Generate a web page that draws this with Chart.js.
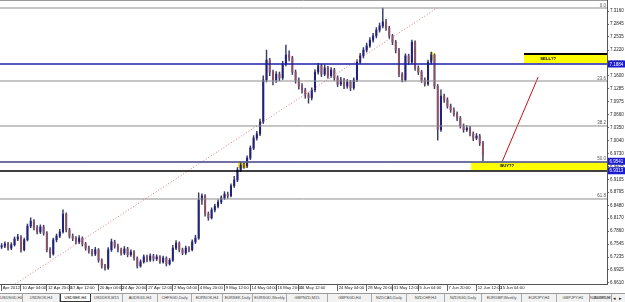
<!DOCTYPE html>
<html><head><meta charset="utf-8">
<script src="https://cdn.jsdelivr.net/npm/chart.js@4.4.0/dist/chart.umd.min.js"></script>
<style>
html,body{margin:0;padding:0;background:#fff;width:625px;height:302px;overflow:hidden;}
#wrap{position:relative;width:625px;height:302px;}
canvas{display:block;}
#tabs{position:absolute;left:0;top:293px;width:625px;height:9px;background:#f2f2f2;border-top:1px solid #9a9a9a;box-sizing:border-box;font:3.9px "Liberation Sans",Arial,sans-serif;color:#444;white-space:nowrap;overflow:hidden;}
.tab{position:absolute;top:0;height:8px;line-height:8px;text-align:center;border-right:1px solid #aaa;box-sizing:border-box;overflow:hidden;}
.tab.active{background:#fff;border:1px solid #333;border-top:none;color:#000;}
.arr{position:absolute;top:0;line-height:8px;font-size:5px;color:#222;}
</style></head>
<body><div id="wrap"><canvas id="c" width="625" height="293"></canvas><div id="tabs"></div></div>
<script>
// ---------- data ----------
const priceTicks = [7.3160,7.2845,7.2535,7.2220,7.1910,7.1600,7.1285,7.0975,7.0660,7.0350,7.0040,6.9730,6.9415,6.9105,6.8795,6.8480,6.8170,6.7860,6.7545,6.7235,6.6925,6.6610];
const timeLabels = ["Apr 2012","10 Apr 04:00","12 Apr 20:00","17 Apr 12:00","20 Apr 04:00","24 Apr 20:00","27 Apr 12:00","2 May 04:00","4 May 20:00","9 May 12:00","14 May 04:00","16 May 20:00","21 May 12:00","24 May 04:00","28 May 20:00","31 May 12:00","5 Jun 04:00","7 Jun 20:00","12 Jun 12:00","15 Jun 04:00"];
const timeLabelBars = [0,6,14,21,30,37,45,53,61,69,77,85,92,104,113,121,129,138,147,154];

const opens = [6.748,6.750,6.755,6.745,6.753,6.767,6.772,6.741,6.765,6.798,6.810,6.794,6.784,6.796,6.781,6.741,6.731,6.765,6.774,6.784,
6.827,6.789,6.774,6.769,6.760,6.769,6.755,6.745,6.738,6.731,6.741,6.716,6.702,6.697,6.741,6.760,6.750,6.741,6.733,6.743,
6.729,6.736,6.721,6.702,6.712,6.724,6.716,6.726,6.719,6.724,6.712,6.721,6.707,6.716,6.745,6.757,6.741,6.733,6.745,6.741,
6.760,6.769,6.861,6.871,6.827,6.818,6.837,6.846,6.856,6.866,6.875,6.871,6.895,6.909,6.933,6.945,6.943,6.962,6.986,7.010,
7.020,7.049,7.150,7.198,7.169,7.150,7.164,7.155,7.188,7.210,7.203,7.169,7.150,7.135,7.126,7.114,7.107,7.126,7.169,7.184,
7.164,7.179,7.160,7.174,7.155,7.140,7.150,7.135,7.145,7.131,7.150,7.193,7.208,7.222,7.232,7.246,7.256,7.270,7.280,7.290,
7.275,7.256,7.241,7.222,7.164,7.150,7.208,7.193,7.241,7.179,7.169,7.150,7.140,7.193,7.210,7.135,7.030,7.111,7.102,7.087,
7.078,7.068,7.058,7.039,7.030,7.034,7.020,7.010,7.015,6.998];
const highs = [6.756,6.760,6.759,6.758,6.772,6.778,6.775,6.769,6.803,6.818,6.814,6.799,6.801,6.800,6.785,6.746,6.769,6.779,6.790,6.837,
6.830,6.793,6.779,6.773,6.775,6.772,6.759,6.750,6.742,6.747,6.744,6.719,6.706,6.746,6.767,6.764,6.755,6.745,6.749,6.747,
6.741,6.739,6.724,6.717,6.729,6.728,6.731,6.730,6.729,6.727,6.726,6.724,6.720,6.752,6.763,6.760,6.745,6.750,6.749,6.765,
6.776,6.878,6.876,6.874,6.832,6.842,6.851,6.861,6.871,6.881,6.880,6.900,6.918,6.939,6.952,6.950,6.967,6.991,7.016,7.026,
7.056,7.160,7.222,7.202,7.174,7.170,7.169,7.195,7.234,7.220,7.207,7.174,7.155,7.141,7.130,7.119,7.131,7.175,7.190,7.188,
7.186,7.183,7.180,7.178,7.160,7.156,7.154,7.151,7.149,7.155,7.199,7.214,7.228,7.239,7.252,7.262,7.276,7.287,7.323,7.296,
7.279,7.260,7.245,7.226,7.168,7.213,7.212,7.246,7.244,7.184,7.173,7.155,7.198,7.217,7.213,7.139,7.126,7.116,7.107,7.092,
7.083,7.073,7.062,7.044,7.040,7.038,7.025,7.021,7.019,7.002];
const lows = [6.744,6.746,6.740,6.741,6.750,6.763,6.735,6.738,6.762,6.794,6.789,6.779,6.780,6.776,6.736,6.722,6.728,6.760,6.770,6.781,
6.784,6.769,6.763,6.755,6.756,6.750,6.740,6.733,6.726,6.727,6.711,6.697,6.692,6.694,6.737,6.745,6.736,6.728,6.729,6.724,
6.725,6.716,6.697,6.699,6.709,6.712,6.713,6.714,6.715,6.708,6.709,6.702,6.704,6.713,6.741,6.736,6.729,6.730,6.736,6.738,
6.756,6.766,6.850,6.822,6.812,6.815,6.832,6.842,6.852,6.862,6.865,6.868,6.891,6.905,6.929,6.937,6.939,6.958,6.982,7.005,
7.016,7.045,7.145,7.160,7.138,7.144,7.148,7.151,7.184,7.196,7.163,7.142,7.128,7.118,7.106,7.094,7.102,7.121,7.164,7.158,
7.160,7.154,7.156,7.149,7.134,7.136,7.129,7.130,7.124,7.127,7.146,7.189,7.203,7.217,7.228,7.241,7.251,7.265,7.275,7.269,
7.250,7.235,7.215,7.158,7.145,7.147,7.187,7.189,7.173,7.163,7.144,7.135,7.137,7.188,7.129,7.005,7.026,7.096,7.082,7.072,
7.063,7.052,7.034,7.024,7.026,7.015,7.004,7.006,6.992,6.955];
const closes = [6.750,6.755,6.745,6.753,6.767,6.772,6.741,6.765,6.798,6.810,6.794,6.784,6.796,6.781,6.741,6.731,6.765,6.774,6.784,6.827,
6.789,6.774,6.769,6.760,6.769,6.755,6.745,6.738,6.731,6.741,6.716,6.702,6.697,6.741,6.760,6.750,6.741,6.733,6.743,6.729,
6.736,6.721,6.702,6.712,6.724,6.716,6.726,6.719,6.724,6.712,6.721,6.707,6.716,6.745,6.757,6.741,6.733,6.745,6.741,6.760,
6.769,6.861,6.871,6.827,6.818,6.837,6.846,6.856,6.866,6.875,6.871,6.895,6.909,6.933,6.945,6.943,6.962,6.986,7.010,7.020,
7.049,7.150,7.198,7.169,7.150,7.164,7.155,7.188,7.210,7.203,7.169,7.150,7.135,7.126,7.114,7.107,7.126,7.169,7.184,7.164,
7.179,7.160,7.174,7.155,7.140,7.150,7.135,7.145,7.131,7.150,7.193,7.208,7.222,7.232,7.246,7.256,7.270,7.280,7.290,7.275,
7.256,7.241,7.222,7.164,7.150,7.208,7.193,7.241,7.179,7.169,7.150,7.140,7.193,7.210,7.135,7.030,7.111,7.102,7.087,7.078,
7.068,7.058,7.039,7.030,7.034,7.020,7.010,7.015,6.998,6.969];

const fibNames  = ["0.0","23.6","38.2","50.0","61.8"];
const fibPrices = [7.3232,7.1474,7.0391,6.9524,6.8633];
const blueLinePrices  = [7.1884, 6.9524];
const blackLinePrices = [6.9307];
const markedPrices = ["7.1884","6.9541","6.9313"];
const trendLine = [{x:-0.5,y:6.6346},{x:134.8,y:7.3232}];
const arrowLine = [{x:154.9,y:6.9524},{x:166.1,y:7.1571}];
const sellBox = {x0:161.7,x1:187.4,top:7.2125,bottom:7.1908,text:"SELL??",tx:169.2,ty:7.2004};
const buyBox  = {x0:145.3,x1:187.4,top:6.9524,bottom:6.9331,text:"BUY??",tx:156.5,ty:6.9428};
const marks = [{x0:73.2,x1:76.0,top:6.9524,bottom:6.9380},{x0:132.6,x1:133.6,top:7.2173,bottom:7.1980}];

const tabNames = ["USDSGD,H4","USDNOK,H4","USDSEK,H4","USDDKK,M15","AUDSGD,H4","CHFSGD,Daily","EURNOK,H4","EURSEK,Daily","EURSGD,Weekly","GBPNZD,M15","GBPSGD,H4","NZDCAD,Daily","NZDCHF,H4","NZDSGD,Daily","EURGBP,Weekly","EURJPY,H4","GBPJPY,H1","NZDUSD,H1","AUDPLN"];

// ---------- chart ----------
const X_MIN = -0.5, X_MAX = 187.4, Y_MIN = 6.65859, Y_MAX = 7.34249;
const UP = '#22227a', DOWN = '#8a5468', WICK = '#3a3a6a';
const idx = closes.map((_, i) => i);
const hline = (p, color, w) => ({type:'line', data:[{x:X_MIN,y:p},{x:X_MAX,y:p}], borderColor:color, borderWidth:w, pointRadius:0, order:0});

const datasets = [];
fibPrices.forEach(p => datasets.push(hline(p, '#8c8c8c', 1)));
blueLinePrices.forEach(p => datasets.push(hline(p, '#1e1eaa', 1.6)));
blackLinePrices.forEach(p => datasets.push(hline(p, '#000000', 1.6)));
datasets.push({type:'line', data:trendLine, borderColor:'#d77', borderWidth:1, borderDash:[1,2], pointRadius:0, order:0});
datasets.push({type:'line', data:arrowLine, borderColor:'#cc1010', borderWidth:1, pointRadius:0, order:0});
datasets.push({type:'bar', data:idx.map(i => ({x:i, y:[lows[i], highs[i]]})), backgroundColor:WICK, barThickness:0.8, grouped:false, order:6});
datasets.push({type:'bar', data:idx.map(i => ({x:i, y:[Math.min(opens[i],closes[i]), Math.max(opens[i],closes[i])]})),
  backgroundColor: c => closes[c.dataIndex] >= opens[c.dataIndex] ? UP : DOWN, barThickness:1.4, minBarLength:1, grouped:false, order:5});

const FONT = '"Liberation Sans", Arial, sans-serif';
const overlay = {
  id:'overlay',
  beforeDatasetsDraw(chart){
    const {ctx, scales:{x,y}} = chart;
    ctx.save();
    const rect = (b, fill) => {
      const x1 = x.getPixelForValue(b.x0), x2 = x.getPixelForValue(b.x1);
      const y1 = y.getPixelForValue(b.top), y2 = y.getPixelForValue(b.bottom);
      ctx.fillStyle = fill; ctx.fillRect(x1, y1, x2-x1, y2-y1);
      return [x1,y1,x2,y2];
    };
    const s = rect(sellBox, '#ffff00');
    ctx.fillStyle = '#000'; ctx.fillRect(s[0], s[1]-1, s[2]-s[0], 2);
    rect(buyBox, '#ffff00');
    marks.forEach(m => rect(m, '#f0e020'));
    ctx.restore();
  },
  afterDatasetsDraw(chart){
    const {ctx, chartArea:a, scales:{x,y}} = chart;
    ctx.save();
    ctx.fillStyle = '#000';
    ctx.font = 'bold 4.2px ' + FONT;
    ctx.textAlign = 'center'; ctx.textBaseline = 'middle';
    [sellBox, buyBox].forEach(b => ctx.fillText(b.text, x.getPixelForValue(b.tx), y.getPixelForValue(b.ty)));
    ctx.font = '4.5px ' + FONT; ctx.fillStyle = '#555';
    ctx.textAlign = 'right'; ctx.textBaseline = 'alphabetic';
    fibPrices.forEach((p, i) => ctx.fillText(fibNames[i], a.right - 1, y.getPixelForValue(p) - 1.5));
    ctx.strokeStyle = '#9a9a9a'; ctx.lineWidth = 1;
    ctx.beginPath(); ctx.moveTo(a.left, a.top + 0.5); ctx.lineTo(a.right, a.top + 0.5); ctx.stroke();
    ctx.restore();
  },
  afterDraw(chart){
    const {ctx, chartArea:a, scales:{y}} = chart;
    ctx.save();
    ctx.font = '4.5px ' + FONT; ctx.textBaseline = 'middle'; ctx.textAlign = 'left';
    markedPrices.forEach(t => {
      const py = y.getPixelForValue(parseFloat(t));
      ctx.fillStyle = '#1a1ad0'; ctx.fillRect(a.right + 1, py - 3.5, 17, 7);
      ctx.fillStyle = '#fff'; ctx.fillText(t, a.right + 2.5, py + 0.3);
    });
    ctx.restore();
  }
};

new Chart(document.getElementById('c'), {
  type:'bar',
  data:{datasets},
  plugins:[overlay],
  options:{
    responsive:false, animation:false, events:[],
    layout:{padding:0},
    plugins:{legend:{display:false}, tooltip:{enabled:false}},
    scales:{
      x:{type:'linear', min:X_MIN, max:X_MAX, offset:false,
        grid:{drawOnChartArea:false, drawTicks:true, tickLength:7, color:'#666', offset:false},
        border:{display:true, color:'#555', width:1},
        afterBuildTicks: s => { s.ticks = timeLabelBars.map(v => ({value:v})); },
        afterFit: s => { s.height = 9; s.paddingLeft = 0; s.paddingRight = 0; },
        ticks:{autoSkip:false, maxRotation:0, minRotation:0, align:'start', padding:-6, labelOffset:1.2,
          color:'#222', font:{size:4.2, family:FONT}, callback:(v,i) => timeLabels[i]}
      },
      y:{type:'linear', position:'right', min:Y_MIN, max:Y_MAX,
        grid:{drawOnChartArea:false, drawTicks:true, tickLength:2, color:'#666'},
        border:{display:true, color:'#555', width:1},
        afterBuildTicks: s => { s.ticks = priceTicks.map(v => ({value:v})); },
        afterFit: s => { s.width = 18; s.paddingTop = 0; s.paddingBottom = 0; },
        ticks:{autoSkip:false, padding:1, color:'#222', font:{size:4.5, family:FONT}, callback:v => v.toFixed(4)}
      }
    }
  }
});

// ---------- tab bar ----------
const tabEdges = [0,23,60,91,123,158,192,223,253,287,328,372,407,445,482,522,557,590,612];
const tb = document.getElementById('tabs');
tabNames.forEach((n, i) => {
  const d = document.createElement('div');
  d.className = 'tab' + (i === 2 ? ' active' : '');
  d.style.left = tabEdges[i] + 'px';
  d.style.width = ((tabEdges[i+1] ?? 612) - tabEdges[i]) + 'px';
  if (i === tabNames.length - 1) { d.style.width = '20px'; d.style.borderRight = 'none'; d.style.left = '592px'; }
  d.textContent = n;
  tb.appendChild(d);
});
['◂','▸'].forEach((t, i) => { const s = document.createElement('span'); s.className = 'arr'; s.style.left = (613 + i*6) + 'px'; s.textContent = t; tb.appendChild(s); });
</script></body></html>
